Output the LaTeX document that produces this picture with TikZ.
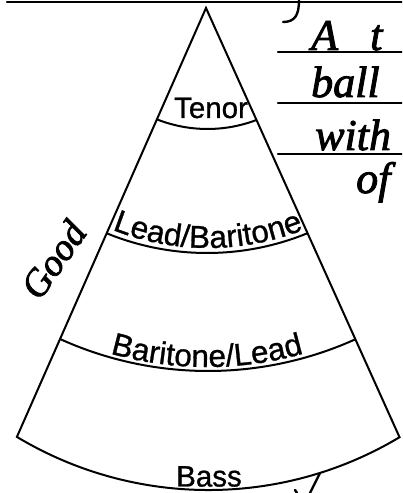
\documentclass[tikz,border=0pt]{standalone}
\usepackage{fontspec}
\setmainfont[FakeBold=0.9]{Liberation Sans}
\newfontfamily\handfont[FakeBold=2]{Liberation Serif}
\usetikzlibrary{decorations.text,calc}
\newcommand\lbsize{\fontsize{31.5}{31.5}\selectfont}
\begin{document}
\begin{tikzpicture}[x=1pt,y=1pt,
  outline/.style={line width=2pt, line join=miter},
  divider/.style={line width=2pt},
  label/.style={font=\fontsize{29.5}{29.5}\selectfont, inner sep=0pt, anchor=base},
  hand/.style={font=\handfont\itshape\fontsize{44}{44}\selectfont, inner sep=0pt, anchor=base west},
  ink/.style={line width=2.4pt, line cap=round}]
\useasboundingbox (0,0) rectangle (402,493);
\clip (0,0) rectangle (402,493);
\coordinate (apex) at (206,485);
\coordinate (bl) at (16.9,56.1);
\coordinate (br) at (399.5,55.8);
% outer sector
\draw[outline] (apex) -- (bl) arc[start angle=239, end angle=300.9, radius=372] -- cycle;
% inner dividers
\begin{scope}
  \clip (apex) -- ($(apex)!1.3!(bl)$) -- ($(apex)!1.3!(br)$) -- cycle;
  \draw[divider] ([shift={(235:137.6)}]207.5,501.6) arc[start angle=235, end angle=305, radius=137.6];
  \draw[divider] ([shift={(235:265)}]207,505) arc[start angle=235, end angle=305, radius=265];
  \draw[divider] ([shift={(235:358)}]208,480) arc[start angle=235, end angle=305, radius=358];
\end{scope}
% labels
\node[label] (tenor) at (211,375) {Tenor};
\node[label] (bass) at (209,6.5) {Bass};
\path[decorate, decoration={text along path, text align=center,
      text={|\lbsize|Lead/Baritone}}]
  ([shift={(243:260)}]208,505) arc[start angle=243, end angle=297, radius=260];
\path[decorate, decoration={text along path, text align=center,
      text={|\lbsize|Baritone/Lead}}]
  ([shift={(250:354)}]207,480) arc[start angle=250, end angle=290, radius=354];
% handwritten notes
\draw[ink] (7,491) -- (402,491);
\draw[ink] (278,441) -- (402,441);
\draw[ink] (278,390) -- (402,390);
\draw[ink] (278,339) -- (402,339);
\node[hand] (hA) at (311,443) {A};
\node[hand] (ht) at (370,443) {t};
\node[hand] (hball) at (311,396) {ball};
\node[hand] (hwith) at (315,343) {with};
\node[hand] (hof) at (356,300) {of};
\node[hand, anchor=base, rotate=55, font=\handfont\itshape\fontsize{38}{38}\selectfont] (hgood) at (64,226) {Good};
\draw[ink] (299,493) .. controls (299,478) and (295,471) .. (283,471);
\draw[ink] (320,20) -- (310,0);
\draw[ink] (295,3) -- (297,0);
\end{tikzpicture}
\end{document}
